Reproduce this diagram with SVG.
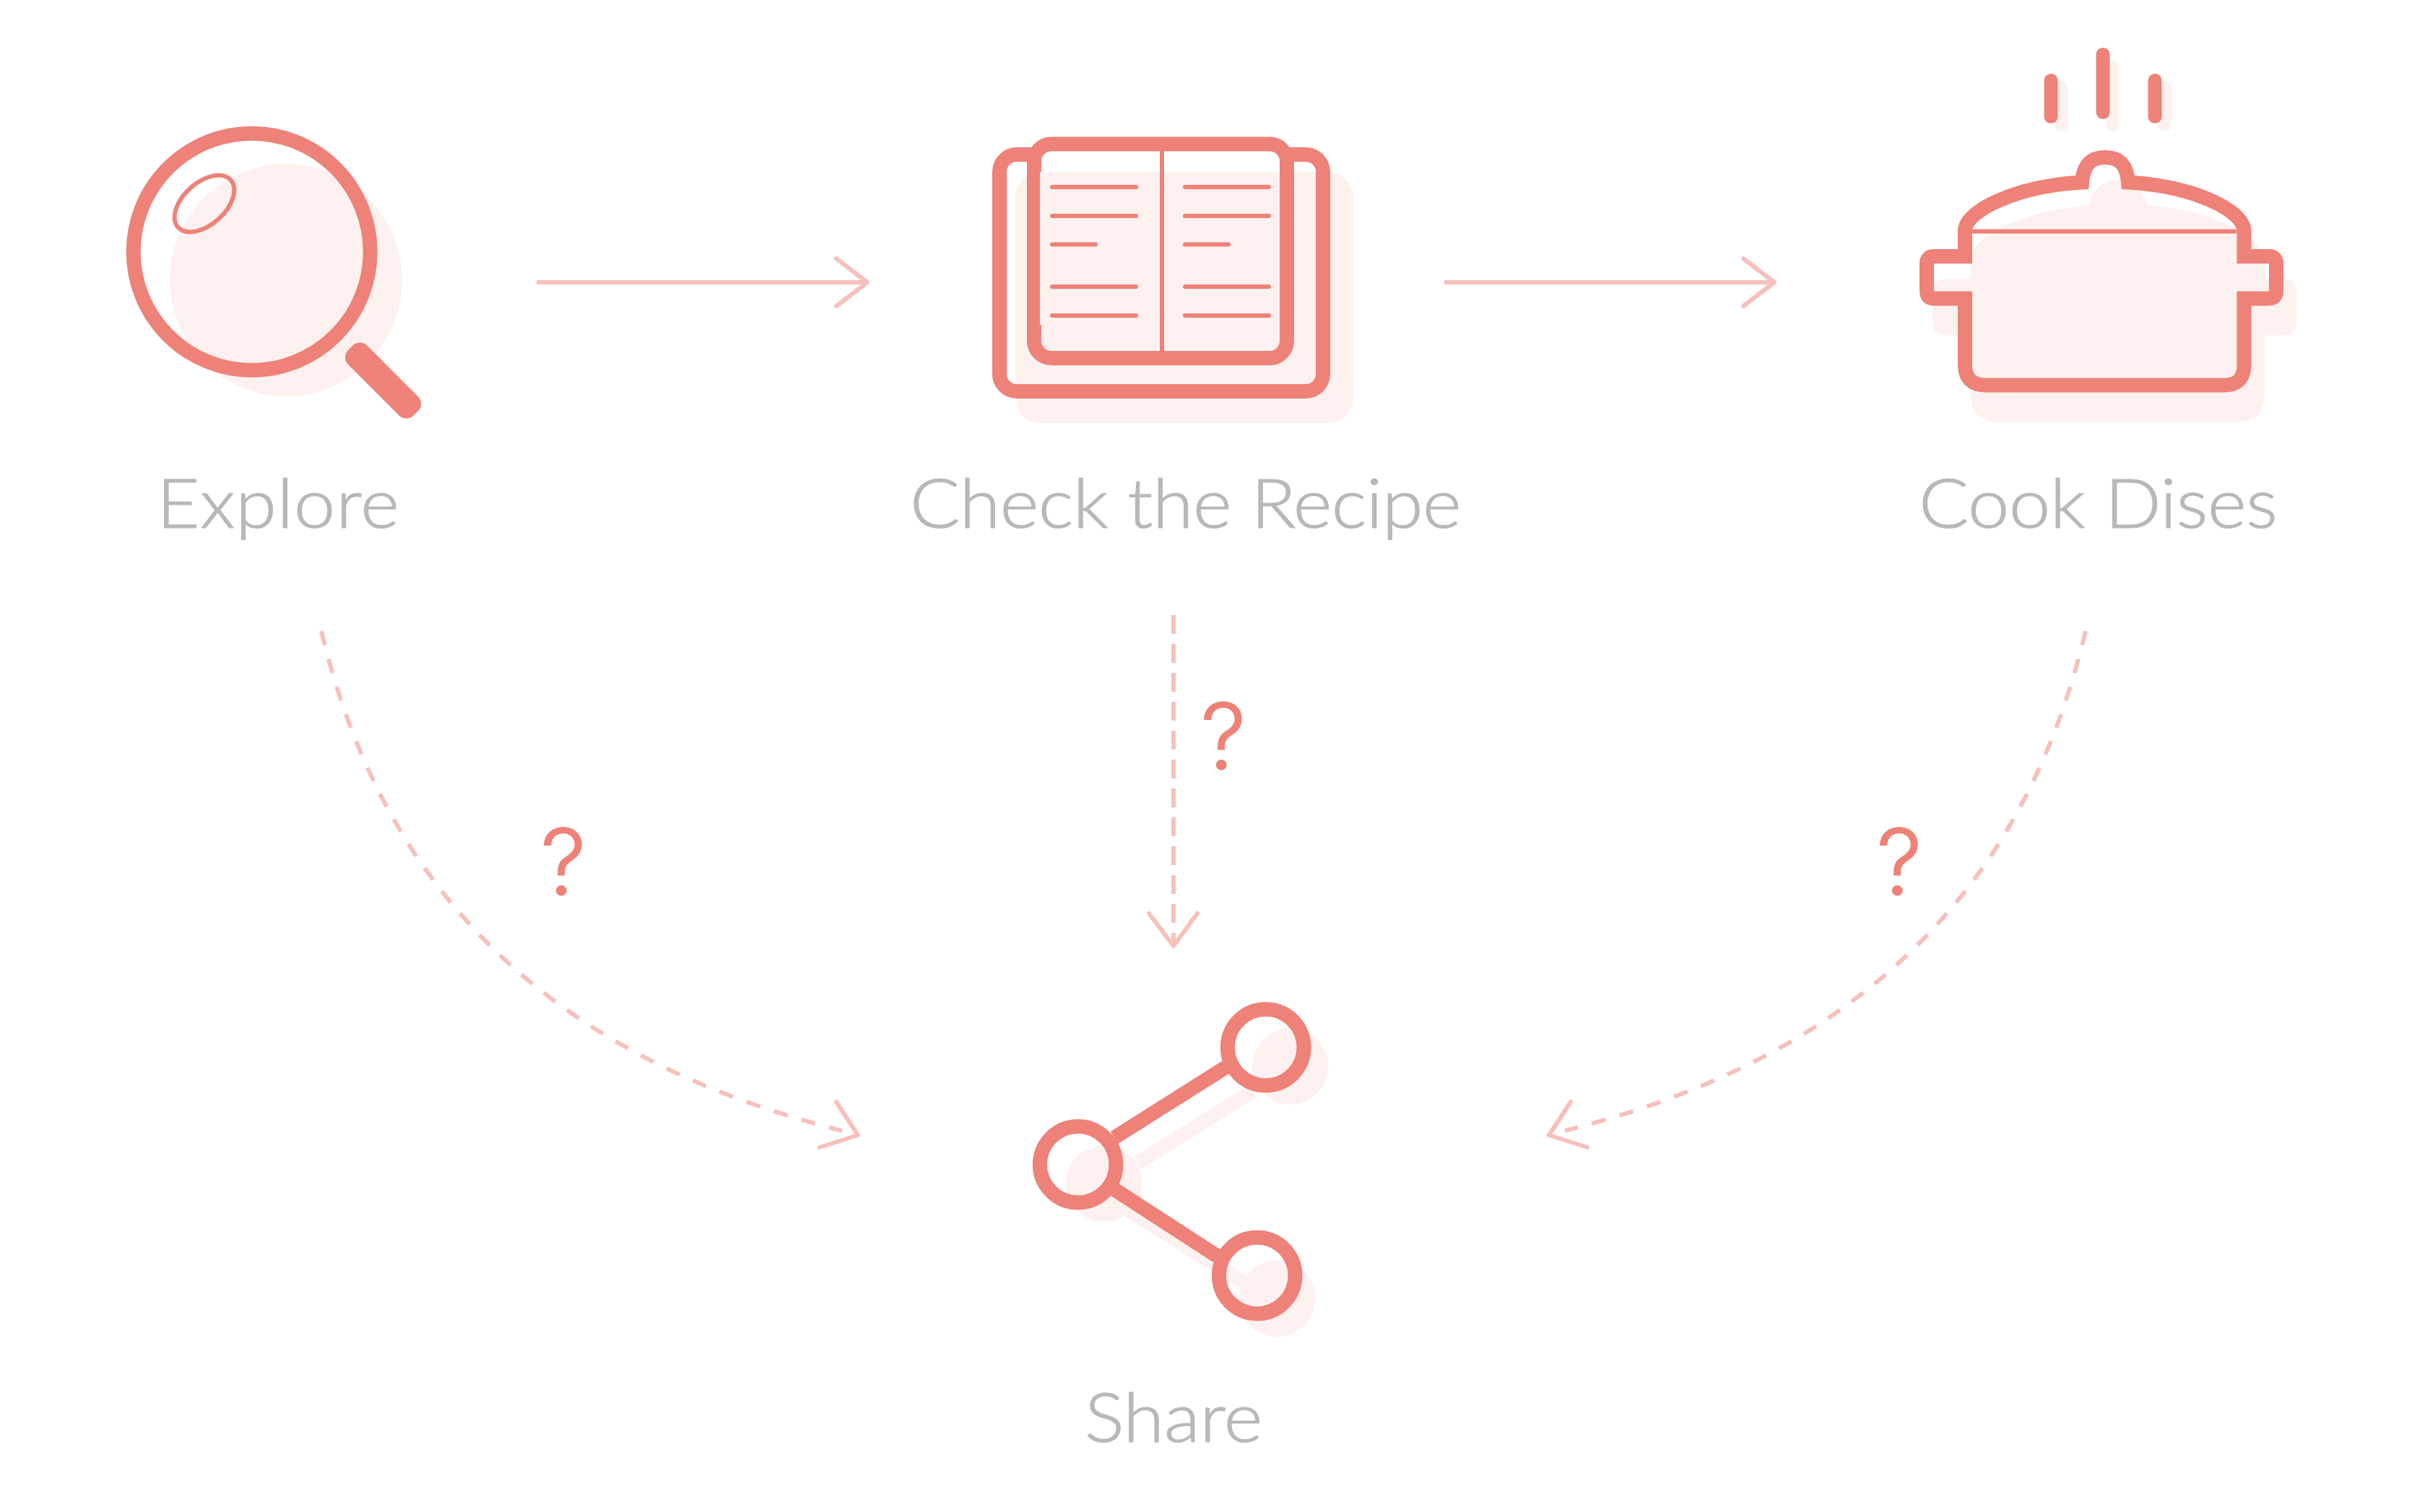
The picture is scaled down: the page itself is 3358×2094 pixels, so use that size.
<svg xmlns="http://www.w3.org/2000/svg" width="3358" height="2094" viewBox="0 0 3358 2094">
<style>
.bg{fill:#fff}
.sh{fill:#fdf1ef}
.shl{fill:none;stroke:#fdf1ef;stroke-width:20}
.s{fill:#ee8178}
.o{fill:none;stroke:#ee8178;stroke-width:20}
.t{fill:none;stroke:#ee8178;stroke-width:6;stroke-linecap:round}
.c{fill:none;stroke:#f7c0bb;stroke-width:6}
.d{stroke-dasharray:20 20}
.v{stroke-dasharray:26 14}
.h{fill:none;stroke:#f7c0bb;stroke-width:6;stroke-linecap:round;stroke-linejoin:round}
.l{font-family:Lato,"Liberation Sans",sans-serif;font-weight:300;font-size:95px;fill:#b8b8b8;stroke:#b8b8b8;stroke-width:1.2}
.q{font-family:Inter,"Liberation Sans",sans-serif;font-weight:300;font-size:126px;fill:#ee8178;stroke:#ee8178;stroke-width:1.5;text-anchor:middle}
</style>
<rect class="bg" x="0" y="0" width="3358" height="2094"/>
<g id="connectors">
<path class="c" d="M743 391H1200"/><path class="h" d="M1158 358L1201 391L1158 424"/>
<path class="c" d="M2000 391H2456"/><path class="h" d="M2414 358L2457 391L2414 424"/>
<path class="c v" d="M1625 852V1308"/><path class="h" d="M1591 1265L1625 1310L1658 1265"/>
<path class="c d" d="M445 874C522 1198 725 1455 1166 1566"/><path class="h" d="M1158 1526L1188 1572L1135 1589"/>
<path class="c d" d="M2888 874C2811 1198 2608 1455 2167 1566"/><path class="h" d="M2175 1526L2145 1572L2198 1589"/>
</g>
<g id="node-explore">
<circle class="sh" cx="396" cy="388" r="161"/>
<circle class="o" cx="348.7" cy="348.7" r="164"/>
<ellipse cx="283" cy="282" rx="49" ry="29" transform="rotate(-42 283 282)" fill="none" stroke="#ee8178" stroke-width="6"/>
<rect class="s" x="466.500" y="508.500" width="128" height="37" rx="14" transform="rotate(45 530.5 527)"/>
<text class="l" transform="translate(217 730.500) scale(1.08 1)" textLength="311" lengthAdjust="spacing">Explore</text>
</g>
<g id="node-recipe">
<rect class="sh" x="1406" y="238" width="468" height="348" rx="35"/>
<rect class="o" x="1384" y="214" width="448" height="328" rx="24"/>
<rect x="1432" y="199.500" width="350" height="296.500" rx="24" fill="#fff"/>
<path class="sh" d="M1440 238H1772V472Q1772 486 1758 486H1456Q1442 486 1442 472V450H1440Z"/>
<rect class="o" x="1432" y="199.500" width="350" height="296.500" rx="24"/>
<rect class="sh" x="1440" y="238" width="2" height="212"/>
<rect class="s" x="1606" y="200" width="6" height="290"/>
<path class="t" d="M1457 259H1573M1457 299H1573M1457 338.500H1517M1457 397H1573M1457 437H1573M1641 259H1757M1641 299H1757M1641 338.500H1701M1641 397H1757M1641 437H1757"/>
<text class="l" transform="translate(1260 730.500) scale(1.08 1)" textLength="707" lengthAdjust="spacing">Check the Recipe</text>
</g>
<g id="node-cook">
<path class="sh" transform="translate(18 41)" d="M2711 320C2711 285 2785 250 2874 243.400C2879 222 2895 208 2915 208C2935 208 2951 222 2956 243.400C3045 250 3117.600 285 3117.600 320V345H3142Q3162 345 3162 362V406Q3162 423.400 3142 423.400H3117.600V505Q3117.600 543.700 3080 543.700H2748Q2711 543.700 2711 505V423.400H2678Q2658 423.400 2658 406V362Q2658 345 2678 345H2711Z"/>
<rect class="sh" x="2844.400" y="112.500" width="19" height="69" rx="9.500"/>
<rect class="sh" x="2916" y="83.600" width="19" height="98" rx="9.500"/>
<rect class="sh" x="2988" y="112.500" width="19" height="69" rx="9.500"/>
<rect class="s" x="2830.500" y="102" width="19" height="69" rx="9.500"/>
<rect class="s" x="2902.500" y="66" width="19" height="99" rx="9.500"/>
<rect class="s" x="2974.500" y="102" width="19" height="69" rx="9.500"/>
<path class="o" d="M2721 320V355H2678Q2668 355 2668 365V403Q2668 413.500 2678 413.500H2721V505Q2721 533.500 2750 533.500H3080Q3107.500 533.500 3107.500 505V413.500H3142Q3152 413.500 3152 403V365Q3152 355 3142 355H3107.500V320"/>
<path class="o" d="M2721 320C2721 292 2790 258 2883 252.500C2885 228 2895 218 2915 218C2935 218 2945 228 2947 252.500C3040 258 3107.500 292 3107.500 320"/>
<rect class="s" x="2731" y="317.500" width="366" height="6"/>
<text class="l" transform="translate(2657 730.500) scale(1.08 1)" textLength="460" lengthAdjust="spacing">Cook Dises</text>
</g>
<g id="node-share">
<circle class="sh" cx="1786.700" cy="1476.600" r="52.800"/>
<circle class="sh" cx="1528.700" cy="1639" r="52.800"/>
<circle class="sh" cx="1768.500" cy="1798.500" r="52.800"/>
<path class="shl" d="M1575 1611L1735 1511M1540 1662L1760 1800"/>
<circle class="o" cx="1752.700" cy="1450.500" r="52.800"/>
<circle class="o" cx="1492.700" cy="1612.800" r="52.800"/>
<circle class="o" cx="1740.700" cy="1766.600" r="52.800"/>
<path class="o" d="M1543 1575.600L1697.400 1478M1543.500 1647.500L1685.300 1739.500"/>
<text class="l" transform="translate(1502 1996.500) scale(1.08 1)" textLength="228" lengthAdjust="spacing">Share</text>
</g>
<g id="labels">
<text class="q" x="780" y="1239">?</text>
<text class="q" x="1694" y="1065">?</text>
<text class="q" x="2630" y="1239">?</text>
</g>
</svg>
